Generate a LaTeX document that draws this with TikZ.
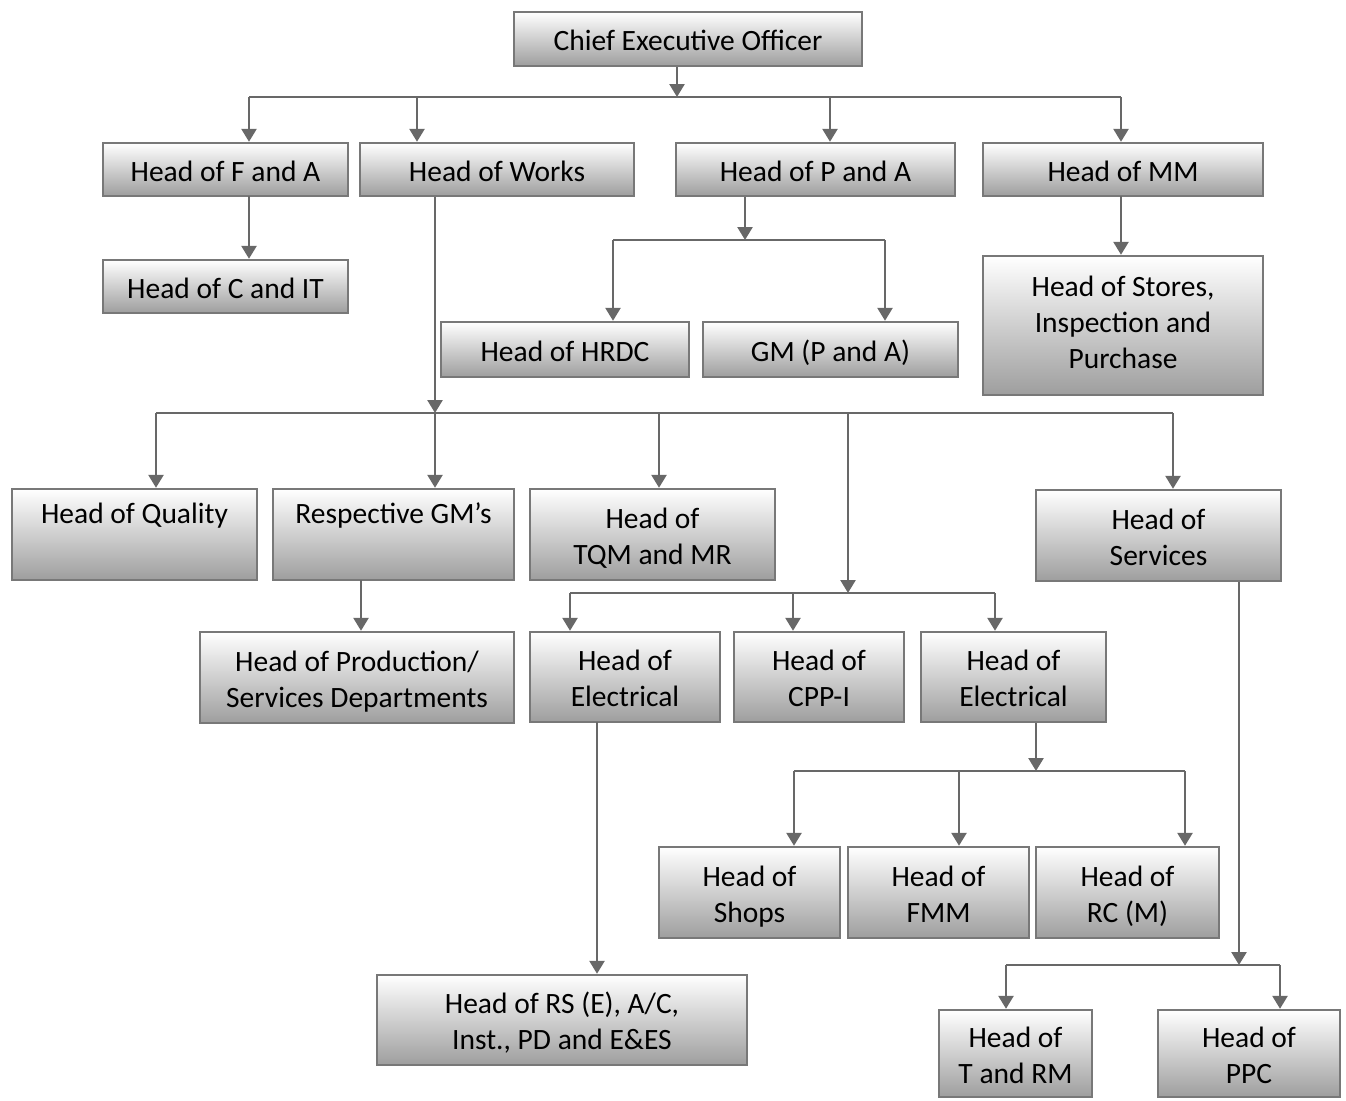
\documentclass[tikz,border=0pt]{standalone}
\usepackage{fontspec}
\setmainfont{Carlito}
\usetikzlibrary{arrows.meta}
\definecolor{boxtop}{RGB}{255,255,255}
\definecolor{boxbottom}{RGB}{158,158,158}
\definecolor{boxline}{RGB}{120,120,120}
\definecolor{wire}{RGB}{104,104,104}
% fixed line box so every line sits the same way inside its frame
\newcommand\ls{\rule[-6.5pt]{0pt}{36pt}}
\tikzset{
  box/.style={draw=boxline, line width=2.4pt, top color=boxtop, bottom color=boxbottom,
    inner sep=0pt, align=center, font=\fontsize{29.5}{36}\selectfont},
  ln/.style={draw=wire, line width=2.6pt},
  arr/.style={ln, -{Triangle[width=15pt,length=13pt]}}
}
\begin{document}
\begin{tikzpicture}[x=1pt,y=-1pt]
\useasboundingbox (0,0) rectangle (1346,1100);

% boxes
\node[box, minimum width=348pt, minimum height=54pt] (ceo) at (688,39) {\ls Chief Executive Officer};

\node[box, minimum width=245pt, minimum height=53pt] (fa) at (225.5,169.5) {\ls Head of F and A};
\node[box, minimum width=274pt, minimum height=53pt] (works) at (497,169.5) {\ls Head of Works};
\node[box, minimum width=279pt, minimum height=53pt] (pa) at (815.5,169.5) {\ls Head of P and A};
\node[box, minimum width=280pt, minimum height=53pt] (mm) at (1123,169.5) {\ls Head of MM};

\node[box, minimum width=245pt, minimum height=53pt] (cit) at (225.5,286.5) {\ls Head of C and IT};
\node[box, minimum width=248pt, minimum height=55pt] (hrdc) at (565,349.5) {\ls Head of HRDC};
\node[box, minimum width=255pt, minimum height=55pt] (gmpa) at (830.5,349.5) {\ls GM (P and A)};
\node[box, minimum width=280pt, minimum height=139pt] (stores) at (1123,325.5) {\ls Head of Stores,\\\ls Inspection and\\\ls Purchase\rule[-16.5pt]{0pt}{16.5pt}};

\node[box, minimum width=245pt, minimum height=91pt] (quality) at (134.5,534.5) {\ls Head of Quality\\[9pt]\ls};
\node[box, minimum width=241pt, minimum height=91pt] (gms) at (393.5,534.5) {\ls Respective GM’s\\[9pt]\ls};
\node[box, minimum width=245pt, minimum height=91pt] (tqm) at (652.5,534.5) {\ls Head of\\\ls TQM and MR};
\node[box, minimum width=245pt, minimum height=91pt] (serv) at (1158.5,535.5) {\ls Head of\\\ls Services};

\node[box, minimum width=314pt, minimum height=91pt] (prod) at (357,677.5) {\ls Head of Production/\\\ls Services Departments};
\node[box, minimum width=190pt, minimum height=90pt] (elA) at (625,677) {\ls Head of\\\ls Electrical};
\node[box, minimum width=170pt, minimum height=90pt] (cpp) at (819,677) {\ls Head of\\\ls CPP-I};
\node[box, minimum width=185pt, minimum height=90pt] (elB) at (1013.5,677) {\ls Head of\\\ls Electrical};

\node[box, minimum width=181pt, minimum height=91pt] (shops) at (749.5,892.5) {\ls Head of\\\ls Shops};
\node[box, minimum width=181pt, minimum height=91pt] (fmm) at (938.5,892.5) {\ls Head of\\\ls FMM};
\node[box, minimum width=183pt, minimum height=91pt] (rc) at (1127.5,892.5) {\ls Head of\\\ls RC (M)};

\node[box, minimum width=370pt, minimum height=90pt] (rs) at (562,1020) {\ls Head of RS (E), A/C,\\\ls Inst., PD and E\&ES};
\node[box, minimum width=153pt, minimum height=87pt] (trm) at (1015.5,1053.5) {\ls Head of\\\ls T and RM};
\node[box, minimum width=182pt, minimum height=87pt] (ppc) at (1249,1053.5) {\ls Head of\\\ls PPC};

% junction points on the distribution lines
\coordinate (j1) at (677,97);
\coordinate (j1a) at (249,97);
\coordinate (j1b) at (417,97);
\coordinate (j1c) at (830,97);
\coordinate (j1d) at (1121,97);

\coordinate (jfa) at (249,196);
\coordinate (j2) at (745,240);
\coordinate (j2a) at (613,240);
\coordinate (j2b) at (885,240);
\coordinate (jmm) at (1121,196);

\coordinate (j3) at (435,413);
\coordinate (j3a) at (156,413);
\coordinate (j3b) at (659,413);
\coordinate (j3c) at (848,413);
\coordinate (j3d) at (1173,413);

\coordinate (jgm) at (361,580);
\coordinate (j4) at (848,593);
\coordinate (j4a) at (570,593);
\coordinate (j4b) at (793,593);
\coordinate (j4c) at (995,593);

\coordinate (jelA) at (597,722);
\coordinate (j5) at (1036,771);
\coordinate (j5a) at (794,771);
\coordinate (j5b) at (959,771);
\coordinate (j5c) at (1185,771);

\coordinate (j6) at (1239,965);
\coordinate (j6a) at (1006,965);
\coordinate (j6b) at (1280,965);

% CEO level
\draw[arr] (ceo.south -| j1) -- (j1);
\draw[ln] (j1a) -- (j1d);
\draw[arr] (j1a) -- (j1a |- fa.north);
\draw[arr] (j1b) -- (j1b |- works.north);
\draw[arr] (j1c) -- (j1c |- pa.north);
\draw[arr] (j1d) -- (j1d |- mm.north);

% second level
\draw[arr] (jfa) -- (jfa |- cit.north);
\draw[arr] (pa.south -| j2) -- (j2);
\draw[ln] (j2a) -- (j2b);
\draw[arr] (j2a) -- (j2a |- hrdc.north);
\draw[arr] (j2b) -- (j2b |- gmpa.north);
\draw[arr] (jmm) -- (jmm |- stores.north);

% works branch
\draw[arr] (works.south -| j3) -- (j3);
\draw[ln] (j3a) -- (j3d);
\draw[arr] (j3a) -- (j3a |- quality.north);
\draw[arr] (j3) -- (j3 |- gms.north);
\draw[arr] (j3b) -- (j3b |- tqm.north);
\draw[arr] (j3c) -- (j4);
\draw[arr] (j3d) -- (j3d |- serv.north);

\draw[arr] (jgm) -- (jgm |- prod.north);
\draw[ln] (j4a) -- (j4c);
\draw[arr] (j4a) -- (j4a |- elA.north);
\draw[arr] (j4b) -- (j4b |- cpp.north);
\draw[arr] (j4c) -- (j4c |- elB.north);

\draw[arr] (jelA) -- (jelA |- rs.north);

\draw[arr] (elB.south -| j5) -- (j5);
\draw[ln] (j5a) -- (j5c);
\draw[arr] (j5a) -- (j5a |- shops.north);
\draw[arr] (j5b) -- (j5b |- fmm.north);
\draw[arr] (j5c) -- (j5c |- rc.north);

\draw[arr] (serv.south -| j6) -- (j6);
\draw[ln] (j6a) -- (j6b);
\draw[arr] (j6a) -- (j6a |- trm.north);
\draw[arr] (j6b) -- (j6b |- ppc.north);
\end{tikzpicture}
\end{document}
